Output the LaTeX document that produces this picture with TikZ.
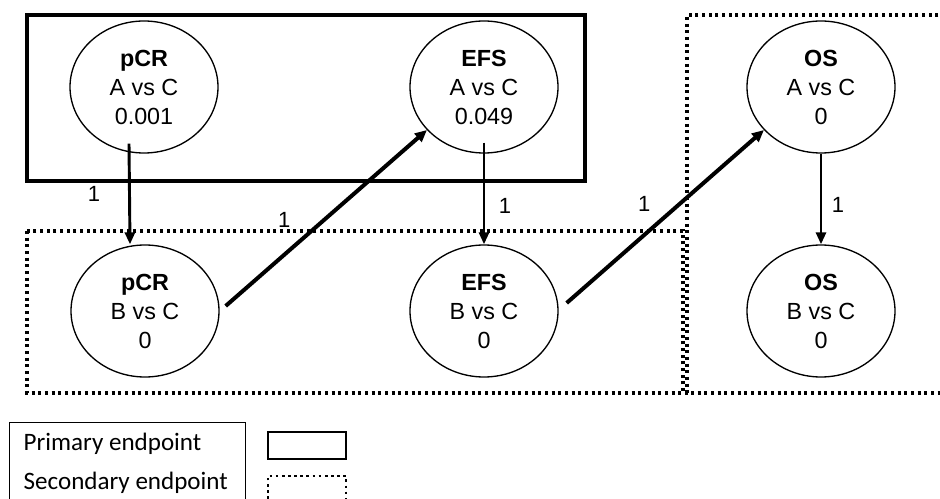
\documentclass[tikz,border=0pt]{standalone}
\usepackage{fontspec}
\setmainfont{Liberation Sans}
\newfontfamily\legendfont{Carlito}
\usetikzlibrary{arrows.meta,positioning,shapes.geometric}

\tikzset{
  endpt/.style={draw, ellipse, line width=1pt, inner sep=0pt,
    minimum width=111pt, minimum height=99pt, align=center,
    font=\fontsize{17.5}{21.75}\selectfont},
  vlink/.style={line width=2.2pt, -{Triangle[length=9pt,width=7.5pt]}},
  dlink/.style={line width=3pt, -{Triangle[length=9pt,width=8pt]}},
  linklbl/.style={font=\fontsize{16.5}{18}\selectfont, inner sep=0pt},
  primbox/.style={draw, line width=3pt},
  secbox/.style={draw, line width=2.3pt, dash pattern=on 2.2pt off 2.8pt},
}

\begin{document}
\begin{tikzpicture}[x=0.75pt, y=-0.75pt]
\useasboundingbox (0,0) rectangle (940,499);

% Endpoint groups
\draw[primbox] (27,15) rectangle (585,181);
\draw[secbox] (27,231) rectangle (683,393);
\draw[secbox] (945,15) -- (687,15) -- (687,393) -- (945,393);

% Comparisons
\node[endpt] (pcrA) at (144,87) {\textbf{pCR}\\A vs C\\0.001};
\node[endpt] (efsA) at (484,87) {\textbf{EFS}\\A vs C\\0.049};
\node[endpt] (osA)  at (821,87) {\textbf{OS}\\A vs C\\0};
\node[endpt] (pcrB) at (145,311) {\textbf{pCR}\\B vs C\\0};
\node[endpt] (efsB) at (484,311) {\textbf{EFS}\\B vs C\\0};
\node[endpt] (osB)  at (821,311) {\textbf{OS}\\B vs C\\0};

% Weight transfers
\draw[vlink] ([xshift=-11.25pt,yshift=7.5pt]pcrA.south) -- ([xshift=-11.25pt]pcrB.north)
  node[linklbl, midway, left=21pt] {1};
\draw[dlink] ([xshift=4.5pt,yshift=3.75pt]pcrB.east) -- (efsA.217)
  node[linklbl, pos=0.49, left=24pt] {1};
\draw[vlink] ([yshift=8.25pt]efsA.south) -- (efsB.north)
  node[linklbl, pos=0.62, right=10pt] {1};
\draw[dlink] ([xshift=6pt,yshift=6pt]efsB.east) -- (osA.217)
  node[linklbl, pos=0.57, left=20pt] {1};
\draw[vlink] (osA.south) -- (osB.north)
  node[linklbl, pos=0.57, right=7pt] {1};

% Legend
\draw[line width=0.75pt] (9,505) -- (9,422) -- (245,422) -- (245,505);
\node[font=\legendfont\fontsize{18.8}{20}\selectfont, anchor=west] (lgprim) at (19,444) {Primary endpoint};
\node[font=\legendfont\fontsize{18.8}{20}\selectfont, anchor=west] (lgsec) at (19,483) {Secondary endpoint};
\draw[line width=2.2pt] (268,432) rectangle (346,459);
\draw[line width=2pt, dash pattern=on 2pt off 2.6pt] (268,505) -- (268,476) -- (346,476) -- (346,505);

\end{tikzpicture}
\end{document}
